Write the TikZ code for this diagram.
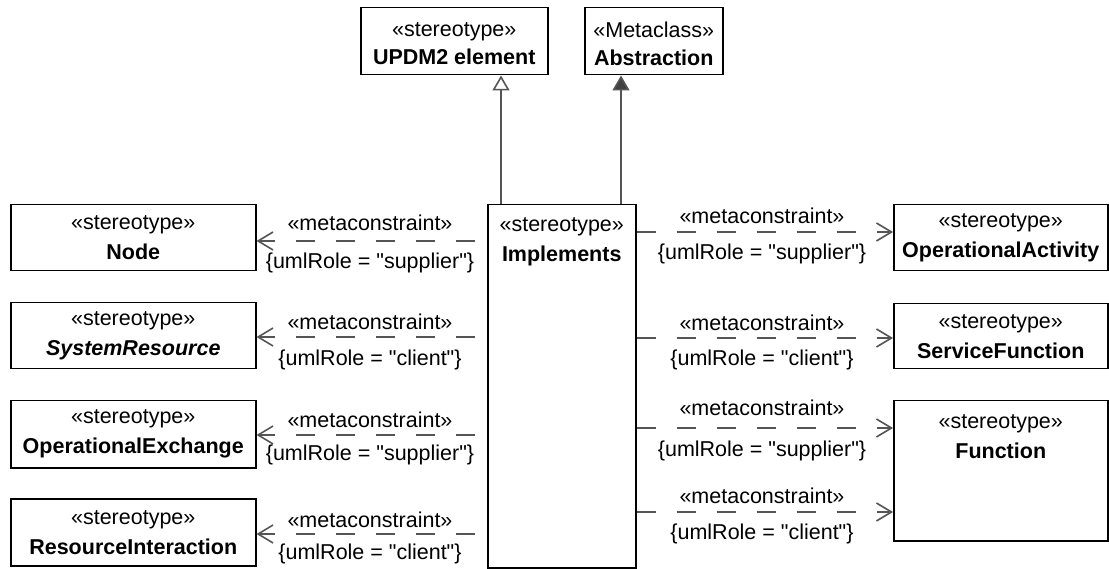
\documentclass[tikz,border=0pt]{standalone}
\usepackage{fontspec}
\setmainfont{Liberation Sans}[Ligatures=TeXOff]
\usetikzlibrary{arrows.meta}
\definecolor{conn}{HTML}{555555}
\definecolor{genfill}{HTML}{404040}
\begin{document}
\begin{tikzpicture}[x=1pt,y=-1pt,
  every node/.style={font=\fontsize{21.5}{30}\selectfont},
  cls/.style={draw=black, line width=1.5pt, fill=white, inner sep=0pt,
    align=center, anchor=north west},
  head/.style={inner sep=0pt, align=center, anchor=north},
  lab/.style={inner sep=0pt},
  dep/.style={draw=conn, line width=1.6pt, dash pattern=on 19pt off 21pt,
    -{Straight Barb[length=15pt,width=18pt,line width=1.6pt]}},
  gen/.style={draw=conn, line width=1.6pt},
  genopen/.style={gen, -{Triangle[open,length=15pt,width=17pt,fill=white]}},
  genfull/.style={gen, -{Triangle[length=15pt,width=17pt,fill=genfill]}}
]
\useasboundingbox (0,0) rectangle (1109,569);

% top classifiers
\node[cls, minimum width=187pt, minimum height=67pt] (updm) at (360,7) {};
\node[head] (updmtext) at ([yshift=-15pt]updm.north)
  {«stereotype»\\[-2pt]\textbf{UPDM2 element}};
\node[cls, minimum width=138pt, minimum height=67pt] (abst) at (584,7) {};
\node[head] (absttext) at ([yshift=-15pt]abst.north)
  {«Metaclass»\\[-2pt]\textbf{Abstraction}};

% central stereotype
\node[cls, minimum width=148pt, minimum height=363pt] (impl) at (487,204) {};
\node[head] (impltext) at ([yshift=-13pt]impl.north)
  {«stereotype»\\\textbf{Implements}};

% left column
\node[cls, minimum width=245pt, minimum height=66pt] (nodebox) at (10,204)
  {«stereotype»\\\textbf{Node}};
\node[cls, minimum width=245pt, minimum height=66pt] (sysres) at (10,302)
  {«stereotype»\\\textbf{\textit{SystemResource}}};
\node[cls, minimum width=245pt, minimum height=67pt] (opex) at (10,400)
  {«stereotype»\\\textbf{OperationalExchange}};
\node[cls, minimum width=245pt, minimum height=67pt] (resint) at (10,498)
  {«stereotype»\\\textbf{ResourceInteraction}};

% right column
\node[cls, minimum width=214pt, minimum height=66pt] (opact) at (893,204)
  {«stereotype»\\\textbf{OperationalActivity}};
\node[cls, minimum width=214pt, minimum height=65pt] (servf) at (893,303)
  {«stereotype»\\\textbf{ServiceFunction}};
\node[cls, minimum width=214pt, minimum height=140pt] (func) at (893,400) {};
\node[head] (functext) at ([yshift=-14pt]func.north)
  {«stereotype»\\\textbf{Function}};

% generalizations
\coordinate (g1) at (501,204);
\coordinate (g2) at (621,204);
\draw[genopen] (g1) -- (g1 |- updm.south);
\draw[genfull] (g2) -- (g2 |- abst.south);

% metaconstraints to the left
\coordinate (l1) at (475,241);
\coordinate (l2) at (475,337);
\coordinate (l3) at (475,435);
\coordinate (l4) at (475,534);
\draw[dep] (l1) -- (l1 -| nodebox.east);
\draw[dep] (l2) -- (l2 -| sysres.east);
\draw[dep] (l3) -- (l3 -| opex.east);
\draw[dep] (l4) -- (l4 -| resint.east);
\node[lab] (lm1) at (370,223) {«metaconstraint»};
\node[lab] (lr1) at (370,263) {\{umlRole = "supplier"\}};
\node[lab] (lm2) at (370,322) {«metaconstraint»};
\node[lab] (lr2) at (370,360) {\{umlRole = "client"\}};
\node[lab] (lm3) at (370,420) {«metaconstraint»};
\node[lab] (lr3) at (370,455) {\{umlRole = "supplier"\}};
\node[lab] (lm4) at (370,520) {«metaconstraint»};
\node[lab] (lr4) at (370,554) {\{umlRole = "client"\}};

% metaconstraints to the right
\coordinate (r1) at (impl.east |- 0,232);
\coordinate (r2) at (impl.east |- 0,338);
\coordinate (r3) at (impl.east |- 0,428);
\coordinate (r4) at (impl.east |- 0,512);
\draw[dep] (r1) -- (r1 -| opact.west);
\draw[dep] (r2) -- (r2 -| servf.west);
\draw[dep] (r3) -- (r3 -| func.west);
\draw[dep] (r4) -- (r4 -| func.west);
\node[lab] (rm1) at (762,216) {«metaconstraint»};
\node[lab] (rr1) at (762,254) {\{umlRole = "supplier"\}};
\node[lab] (rm2) at (762,323) {«metaconstraint»};
\node[lab] (rr2) at (762,360) {\{umlRole = "client"\}};
\node[lab] (rm3) at (762,408) {«metaconstraint»};
\node[lab] (rr3) at (762,451) {\{umlRole = "supplier"\}};
\node[lab] (rm4) at (762,496) {«metaconstraint»};
\node[lab] (rr4) at (762,534) {\{umlRole = "client"\}};
\end{tikzpicture}
\end{document}
